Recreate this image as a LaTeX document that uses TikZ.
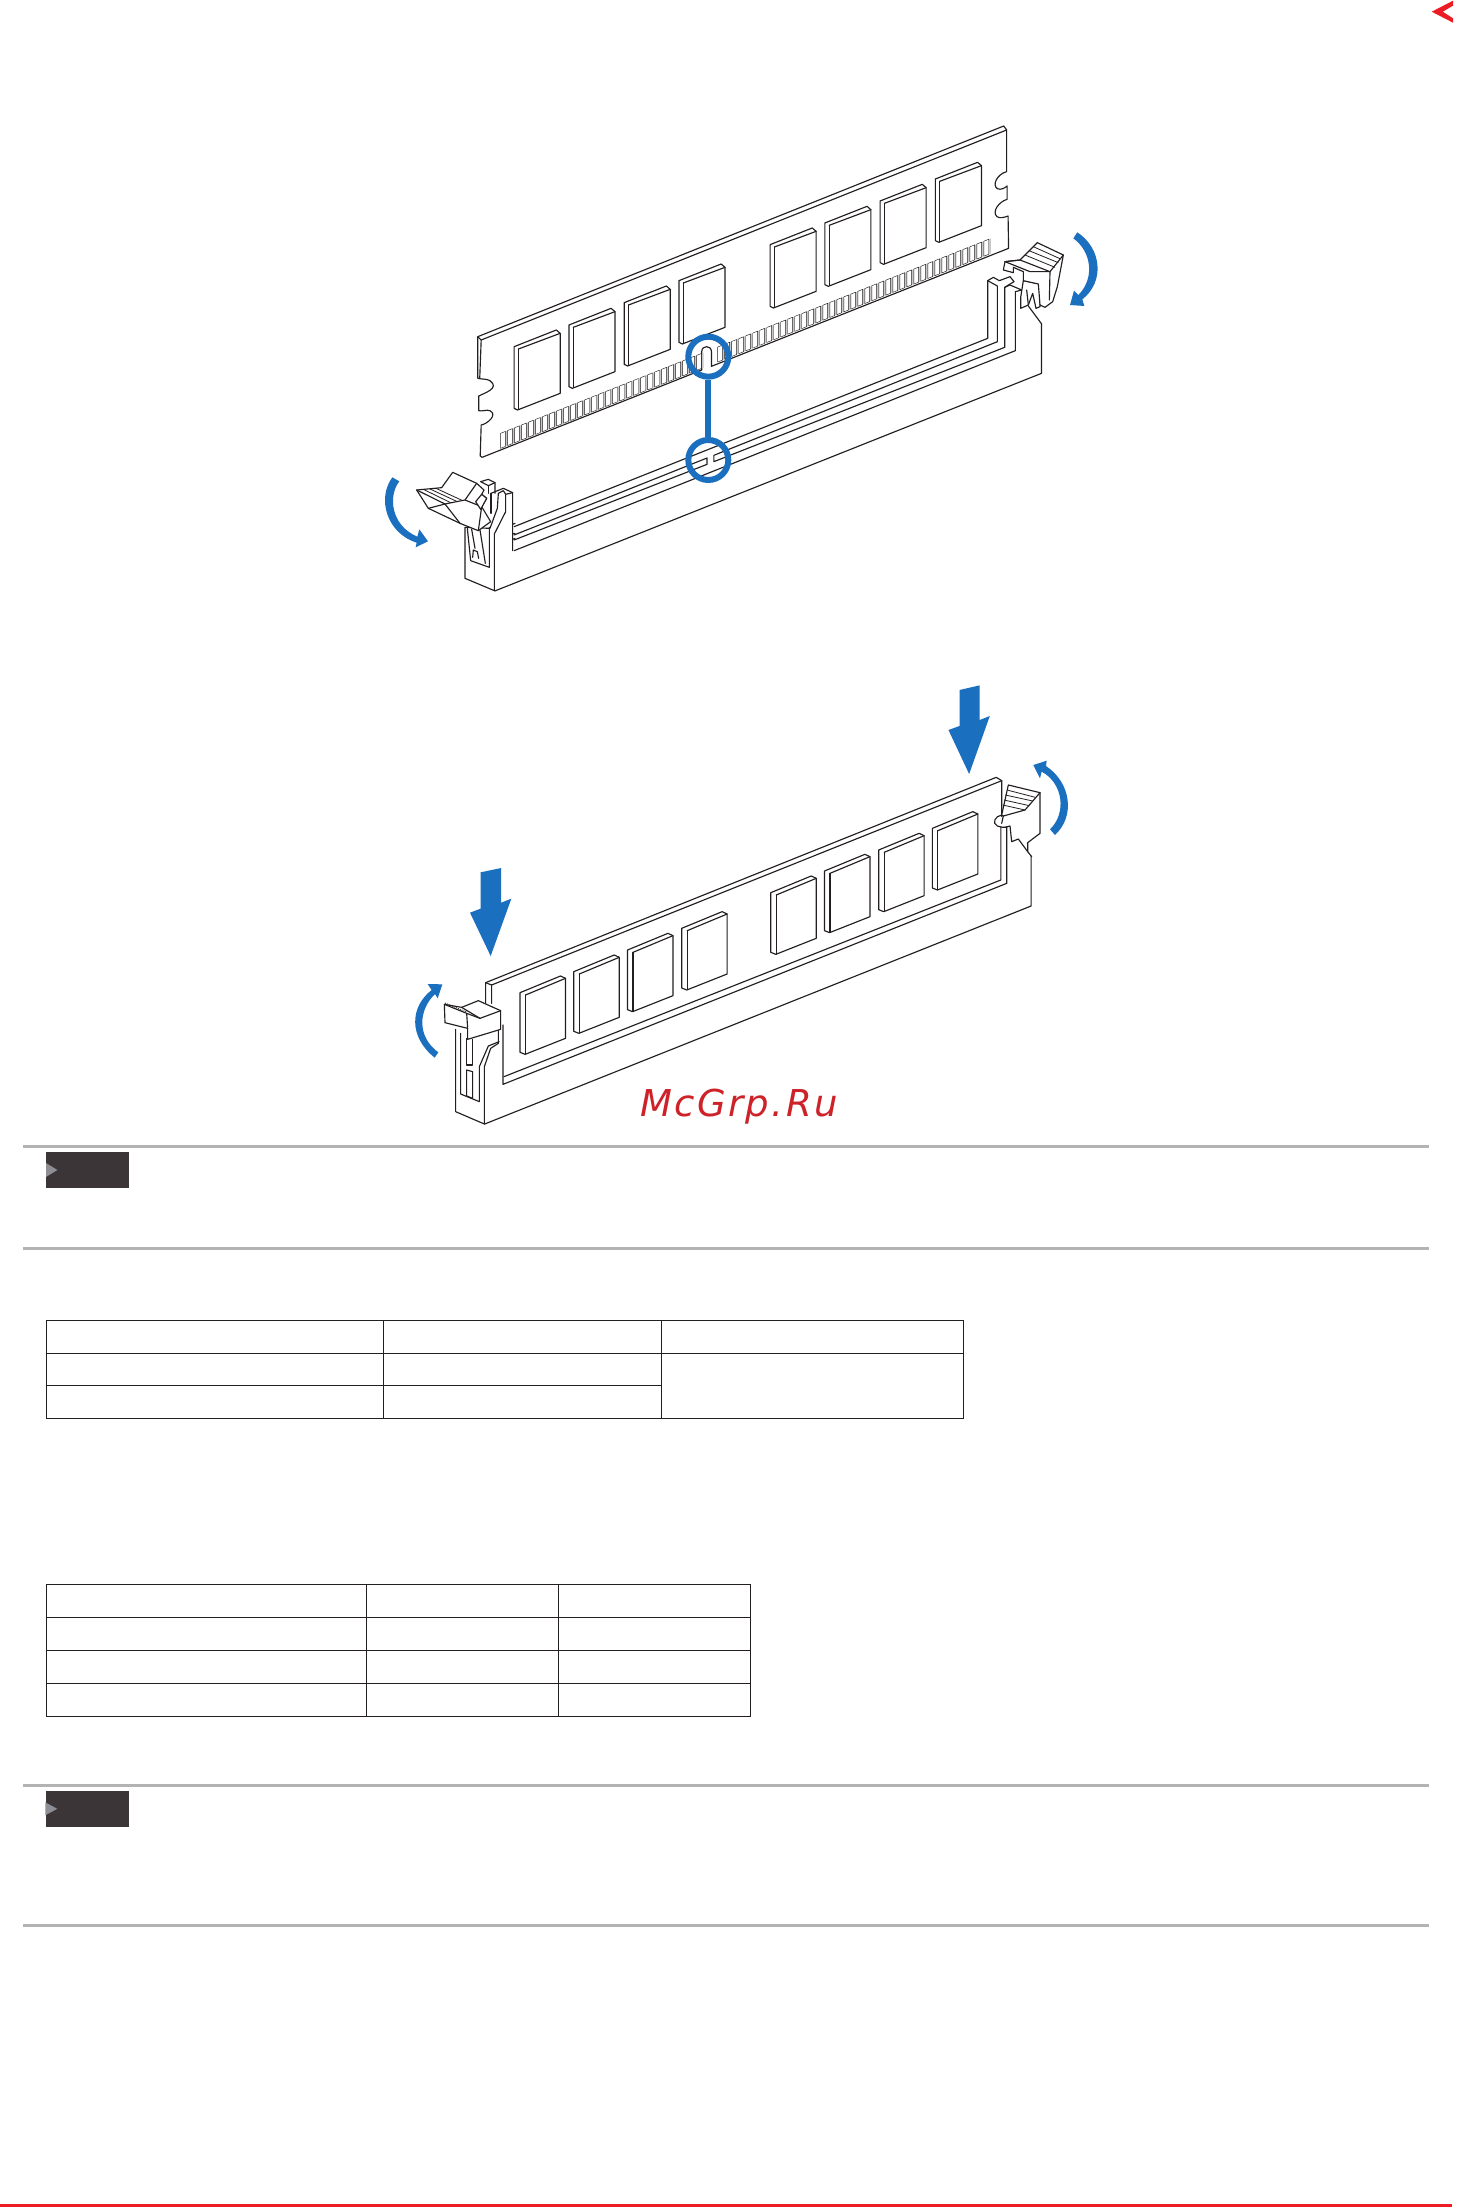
\documentclass[tikz,border=0pt]{standalone}
\usepackage{fontspec}
\newfontfamily\wmfont[LetterSpace=6.5]{DejaVu Sans}
\definecolor{ink}{HTML}{231F20}
\definecolor{mblue}{HTML}{1B6FBF}
\definecolor{rulegray}{HTML}{B3B3B3}
\definecolor{tagdark}{HTML}{3C3537}
\definecolor{taggray}{HTML}{8E8E94}
\definecolor{mred}{HTML}{ED1C24}
\definecolor{wmred}{HTML}{CE2229}
\tikzset{
  art/.style={draw=ink,line width=1.15pt,line join=round,line cap=round},
  thinart/.style={draw=ink,line width=.45pt,line join=round},
  ridge/.style={draw=ink,line width=.8pt},
  grid/.style={draw=ink,line width=1.2pt},
  zA/.style={shift={(360,110)},xscale=.48473,yscale=.33333},
  zB/.style={shift={(380,670)},xscale=.45918,yscale=.33333},
  zSix/.style={shift={(360,440)},scale=.33333},
  zSeven/.style={shift={(960,210)},scale=.33333},
  zNine/.style={shift={(400,970)},scale=.33333},
  zTen/.style={shift={(960,740)},scale=.33333},
  bluefill/.style={fill=mblue,draw=none},
  ringnode/.style={circle,draw=mblue,line width=6pt,minimum size=40pt,inner sep=0pt}
}
\begin{document}
\begin{tikzpicture}[x=1pt,y=-1pt]
\useasboundingbox (0,0) rectangle (1466,2207);
\fill[white] (0,0) rectangle (1466,2207);
% ---------- upper figure
\begin{scope}[zA]
  \draw[art,fill=white] (243,680)--(1328,48)--(1334,60)--(1334,185)
     .. controls (1315,192) and (1303,225) .. (1315,236)
     .. controls (1322,241) and (1330,234) .. (1335,228)
     --(1335,268) .. controls (1318,275) and (1303,305) .. (1314,320)
     .. controls (1320,326) and (1330,322) .. (1337,318)
     --(1338,415)--(725,769)--(725,725)
     .. controls (725,705) and (705,705) .. (705,725)
     --(705,780)--(252,1042)--(248,1038)--(250,945)
     .. controls (262,942) and (285,915) .. (268,902)
     .. controls (262,898) and (252,905) .. (245,902)
     --(245,858) .. controls (255,850) and (290,835) .. (268,812)
     .. controls (262,806) and (250,808) .. (243,805)--cycle;
  \draw[art] (243,680)--(250,690)--(1334,60);
  \draw[art] (250,690)--(247,805);
  \foreach \x/\y in {318/710,431/645,545/578,658/512,846/404,959/339,1073/273,1187/207}{
    \draw[art,fill=white] (\x,\y)--++(87,-50)--++(8,10)--++(0,180)--++(-88,50)--++(-7,-5)--cycle;
    \draw[art] (\x+9,\y+7)--(\x+95,\y-40);
    \draw[art] (\x+9,\y+7)--(\x+9,\y+188);
  }
  \foreach \i in {0,...,69}{
    \pgfmathsetmacro\xa{290+14.45*\i}
    \pgfmathsetmacro\ya{970-0.578*(\xa-290)}
    \pgfmathtruncatemacro\skip{(\xa>698 && \xa<730)?1:0}
    \ifnum\skip=0
      \fill[black!22] (\xa+10,\ya-5.8)--(\xa+14.45,\ya-8.4)--(\xa+14.45,\ya+36.6)--(\xa+10,\ya+39.2)--cycle;
      \draw[thinart] (\xa,\ya)--(\xa+10,\ya-5.8)--(\xa+10,\ya+39.2)--(\xa,\ya+45)--cycle;
    \fi
  }
  % socket rails
  \draw[art] (318,1250)--(1295,685);
  \draw[art] (318,1275)--(716,1044)--(716,1063)--(318,1290);
  \draw[art] (1315,695)--(730,1036)--(730,1055)--(1330,712);
  \draw[art] (318,1322)--(1352,722);
  \draw[art] (278,1443)--(1406,790)--(1406,642);
\end{scope}
\begin{scope}[zSeven]
  \draw[art] (83,385)--(83,212)--(100,202)--(118,212)--(150,200)--(162,215)--(134,232)--(134,412);
  \draw[art] (112,395)--(112,228)--(83,212);
  \draw[art] (134,232)--(150,225)--(185,240)--(166,245)--(166,422);
  \draw[art] (245,342)--(205,288);
  \draw[art,fill=white] (190,212)--(182,262)--(182,295)--(205,285)--(218,250)--(228,295)--(240,290)--(240,222)--cycle;
  \draw[art] (200,240)--(205,285);
  \draw[art,fill=white] (135,155)--(130,180)--(160,188)--(160,172)--(190,185)--(190,212)--(235,222)--(240,285)--(255,292)--(278,275)--(292,230)--(310,135)--(232,98)--(180,150)--cycle;
  \draw[art] (135,155)--(180,150)--(270,185)--(310,135);
  \draw[art] (135,155)--(210,185)--(270,185)--(268,270);
  \draw[ridge] (195,135)--(285,172) (207,122)--(295,158) (220,110)--(302,147);
\end{scope}
\begin{scope}[zSix]
  \draw[art,fill=white] (315,262)--(315,415)--(403,452)--(403,282)--(437,215)--(437,163)--(430,152)--(415,160)--(412,205)--(390,265)--cycle;
  \draw[art] (393,160)--(430,145)--(458,158)--(458,332);
  \draw[art] (437,163)--(458,158);
  \draw[art] (393,160)--(393,220);
  \draw[art] (458,253)--(465,250);
  \draw[art] (458,282)--(465,280);
  \draw[art] (458,298)--(465,295);
  \draw[art] (362,125)--(385,118)--(405,128)--(405,160);
  \draw[art] (362,125)--(385,137)--(405,128);
  \draw[art] (385,137)--(385,160);
  \draw[art] (322,265)--(332,362)--(388,382)--(388,262);
  \draw[art] (338,352)--(340,330)--(352,335)--(356,355);
  \draw[art] (335,268)--(345,325) (360,270)--(376,370);
  \draw[art,fill=white] (170,150)--(205,205)--(300,250)--(355,272)--(392,245)--(365,200)--(380,175)--(365,163)--(372,150)--(350,130)--(278,97)--(245,143)--cycle;
  \draw[art] (170,150)--(255,192)--(300,250);
  \draw[art] (205,205)--(255,192)--(315,180)--(350,130);
  \draw[art] (315,180)--(365,200)--(355,272);
  \draw[art,fill=white] (347,185)--(365,163)--(380,175)--(362,208)--cycle;
  \draw[ridge] (190,148)--(272,188) (210,147)--(290,184) (228,145)--(306,181);
  \draw[bluefill] (97,112)--(118,124) .. controls (85,165) and (90,255) .. (172,290)--(178,268)--(204,304)--(167,322)--(170,308) .. controls (80,280) and (50,175) .. (97,112)--cycle;
\end{scope}
\begin{scope}[zSeven]
  \draw[bluefill] (352,67) .. controls (425,115) and (435,215) .. (367,268)--(373,288)--(330,285)--(342,242)--(355,255) .. controls (405,205) and (395,125) .. (340,85)--cycle;
\end{scope}
\node[ringnode] (ringA) at (708.3,356.7) {};
\node[ringnode] (ringB) at (708.3,460) {};
\draw[mblue,line width=6pt] (ringA)--(ringB);
% ---------- lower figure
\begin{scope}[zB]
  \draw[art] (230,1000)--(230,938)--(1342,322)--(1354,332)--(1354,440);
  \draw[art] (243,1000)--(243,945)--(1354,332);
  \draw[art] (230,938)--(243,945);
  \foreach \x/\y in {305/968,422/905,539/840,657/775,851/668,968/603,1086/540,1203/475}{
    \draw[art,fill=white] (\x,\y)--++(88,-50)--++(11,7)--++(0,180)--++(-88,48)--++(-11,-6)--cycle;
    \draw[art] (\x+12,\y+7)--(\x+99,\y-43);
    \draw[art] (\x+12,\y+7)--(\x+12,\y+184);
  }
  \draw[art] (268,1065)--(268,1243)--(1365,640)--(1365,470);
  \draw[art] (270,1220)--(1352,630)--(1352,470);
  \draw[art] (228,1362)--(1418,708)--(1418,558);
\end{scope}
\begin{scope}[zTen]
  \draw[art] (215,350)--(203,335)--(175,297)--(155,305)--(150,258)--(135,262);
  \draw[art] (203,335)--(203,308)--(240,280)--(240,158);
  \draw[art,fill=white] (145,135)--(240,158)--(195,210)--(130,228)--(125,225)--cycle;
  \draw[ridge] (141,150)--(226,172) (136,165)--(218,183) (132,180)--(208,197) (128,195)--(195,210);
  \draw[art] (125,225) .. controls (105,228) and (95,250) .. (112,258) .. controls (120,262) and (130,262) .. (137,262);
  \draw[art] (130,228)--(125,250);
\end{scope}
\begin{scope}[zNine]
  \draw[art] (167,178)--(167,425)--(253,462)--(253,290)--(272,235)--(295,220)--(295,182);
  \draw[art] (182,190)--(182,372)--(238,395)--(238,290)--(265,228)--(297,215);
  \draw[art] (200,205)--(200,285)--(218,285)--(218,208);
  \draw[art] (200,300)--(200,378)--(218,385)--(218,305)--cycle;
  \draw[art,fill=white] (133,103)--(135,158)--(203,175)--(203,208)--(302,178)--(302,122)--(235,92)--(185,112)--cycle;
  \draw[art] (185,112)--(240,145)--(302,122);
  \draw[art] (240,145)--(200,130)--(203,175);
  \draw[art] (133,103)--(200,130);
  \draw[ridge,dashed,dash pattern=on 1pt off 1pt] (135,99)--(200,126);
  \draw[bluefill] (104,263)--(115,247) .. controls (50,200) and (55,120) .. (105,72)--(113,85)--(127,43)--(83,42)--(95,60) .. controls (30,110) and (25,200) .. (104,263)--cycle;
\end{scope}
\begin{scope}[zTen]
  \draw[bluefill] (285,285) .. controls (345,230) and (335,130) .. (258,78)--(260,62)--(220,75)--(240,115)--(245,95) .. controls (310,130) and (320,220) .. (270,268)--cycle;
\end{scope}
\begin{scope}[zB]
  \draw[bluefill] (1262,60)--(1306,46)--(1306,150)--(1328,138)--(1283,312)--(1238,180)--(1262,168)--cycle;
  \draw[bluefill] (219,607)--(264,594)--(264,698)--(286,686)--(241,858)--(196,728)--(219,716)--cycle;
\end{scope}
\node[anchor=base west,inner sep=0pt,text=wmred] (wm) at (640,1116.7) {\wmfont\itshape\fontsize{37}{40}\selectfont McGrp.Ru};
% ---------- callout 1
\fill[rulegray] (23,1145) rectangle (1429,1148);
\fill[rulegray] (23,1247) rectangle (1429,1250);
\fill[tagdark] (46,1152) rectangle (129,1188);
\fill[taggray] (46,1163)--(57.4,1170)--(46,1177)--cycle;
% ---------- table 1
\draw[grid] (46.5,1320.7) rectangle (963.6,1418.3);
\draw[grid] (46.5,1353.3)--(963.6,1353.3);
\draw[grid] (46.5,1385.3)--(661.4,1385.3);
\draw[draw=ink,line width=.8pt] (383.3,1320.7)--(383.3,1418.3);
\draw[grid] (661.4,1320.7)--(661.4,1418.3);
% ---------- table 2
\draw[grid] (46.5,1584.3) rectangle (750.6,1716.3);
\draw[grid] (46.5,1617.3)--(750.6,1617.3);
\draw[grid] (46.5,1650.3)--(750.6,1650.3);
\draw[grid] (46.5,1683.3)--(750.6,1683.3);
\draw[grid] (366.5,1584.3)--(366.5,1716.3);
\draw[grid] (558.6,1584.3)--(558.6,1716.3);
% ---------- callout 2
\fill[rulegray] (23,1784) rectangle (1429,1787);
\fill[rulegray] (23,1924) rectangle (1429,1927);
\fill[tagdark] (46,1791) rectangle (129,1827);
\fill[taggray] (45.3,1802.3)--(57.3,1808.8)--(45.3,1815.3)--cycle;
% ---------- page marks
\fill[mred] (1431.7,11.7)--(1453,.7)--(1453,5.7)--(1442.7,11.7)--(1453,18.3)--(1453,22.7)--cycle;
\fill[mred] (0,2203.7) rectangle (1451.7,2207);
\end{tikzpicture}
\end{document}
